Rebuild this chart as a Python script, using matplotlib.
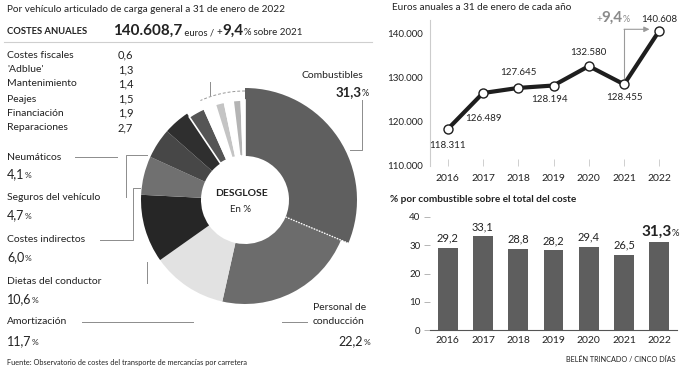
import numpy as np
import matplotlib
matplotlib.use("Agg")
import matplotlib.pyplot as plt
from matplotlib.ticker import FuncFormatter

plt.rcParams['font.family'] = ['Lato', 'DejaVu Sans']

# ---------------- data ----------------
years = [2016, 2017, 2018, 2019, 2020, 2021, 2022]
annual_costs = [118311, 126489, 127645, 128194, 132580, 128455, 140608]
fuel_share = [29.2, 33.1, 28.8, 28.2, 29.4, 26.5, 31.3]

slice_names = ["Combustibles", "Personal de conducción", "Amortización",
               "Dietas del conductor", "Costes indirectos", "Seguros del vehículo",
               "Neumáticos", "Reparaciones", "Financiación", "Peajes",
               "Mantenimiento", "'Adblue'", "Costes fiscales"]
slice_values = [31.3, 22.2, 11.7, 10.6, 6.0, 4.7, 4.1, 2.7, 1.9, 1.5, 1.4, 1.3, 0.6]
slice_colors = ["#5f5f5f", "#6c6c6c", "#e2e2e2", "#262626", "#707070", "#474747",
                "#2f2f2f", "#555555", "#ffffff", "#c4c4c4", "#ffffff", "#b4b4b4", "#ffffff"]

small_names = ["Costes fiscales", "'Adblue'", "Mantenimiento", "Peajes",
               "Financiación", "Reparaciones"]
small_values = ["0,6", "1,3", "1,4", "1,5", "1,9", "2,7"]

total_cost = "140.608,7"
growth = "9,4"

W, H = 686, 370
fig = plt.figure(figsize=(W / 100, H / 100), dpi=100)
fig.patch.set_facecolor("white")

TXT = "#222222"
GRAY = "#8a8a8a"
PT = 100 / 72.0  # pixels per point

def box(l, t, r, b):
    return [l / W, 1 - b / H, (r - l) / W, (b - t) / H]

# ---------------- donut ----------------
cx, cy = 245, 200
axd = fig.add_axes(box(cx - 120, cy - 120, cx + 120, cy + 120))
wedges, _ = axd.pie(slice_values, colors=slice_colors, startangle=90,
                    counterclock=False, radius=104,
                    wedgeprops=dict(width=60, edgecolor="none", linewidth=0))
hole = 44
for i, w in enumerate(wedges):
    if i == 0:
        w.set_radius(112); w.set_width(112 - hole)
    elif slice_values[i] < 3:
        w.set_radius(100); w.set_width(100 - hole)
        w.set_edgecolor("white"); w.set_linewidth(1.2)
axd.set_xlim(-120, 120); axd.set_ylim(-120, 120)
axd.set_aspect("equal"); axd.axis("off")
ang = np.deg2rad(90 - slice_values[0] * 3.6)
axd.plot([hole * np.cos(ang), 112 * np.cos(ang)], [hole * np.sin(ang), 112 * np.sin(ang)],
         color="white", lw=1.0, ls=(0, (1, 1)))
a0 = 90 + sum(slice_values[8:]) * 3.6
th = np.deg2rad(np.linspace(90, a0, 60))
axd.plot(109 * np.cos(th), 109 * np.sin(th), color="#999999", lw=0.7, ls=(0, (3, 2)))
axd.text(-4, 6, "DESGLOSE", ha="center", va="center", fontsize=7.5, fontweight="bold", color=TXT)
axd.text(-4, -9, "En %", ha="center", va="center", fontsize=7, color=TXT)

# ---------------- line chart ----------------
axl = fig.add_axes(box(430, 20, 677, 166))
axl.set_facecolor("none")
axl.plot(years, annual_costs, color="#1e1e1e", lw=3, marker="o", ms=6.5,
         mfc="white", mec="#1e1e1e", mew=1.0, zorder=3, clip_on=False)
axl.set_xlim(2015.5, 2022.5)
axl.set_ylim(110000, 143000)
axl.set_yticks([110000, 120000, 130000, 140000])
axl.yaxis.set_major_formatter(FuncFormatter(lambda v, p: f"{int(v):,}".replace(",", ".")))
axl.set_xticks(years)
for s in ["top", "right", "bottom"]:
    axl.spines[s].set_visible(False)
axl.spines["left"].set_color("#cccccc")
axl.spines["left"].set_linewidth(0.8)
axl.tick_params(axis="y", length=0, pad=5, labelsize=7, labelcolor=TXT)
axl.tick_params(axis="x", length=5, direction="in", color="#c8c8c8", width=0.6,
                pad=6, labelsize=7.5, labelcolor=TXT)
label_off_px = [(0, -16), (0, -25), (0, 15), (-4, -14), (0, 14), (0, -13), (0, 11)]
for x, y, (dx, dy) in zip(years, annual_costs, label_off_px):
    axl.annotate(f"{y:,}".replace(",", "."), (x, y), xytext=(dx / PT, dy / PT),
                 textcoords="offset points", ha="center", va="center",
                 fontsize=7, color=TXT, zorder=4)
axl.plot([2021, 2021], [130000, 140900], color="#9a9a9a", lw=0.8)
axl.annotate("", xy=(2021.72, 140900), xytext=(2021, 140900),
             arrowprops=dict(arrowstyle="-|>", color="#9a9a9a", lw=0.8,
                             mutation_scale=8, shrinkA=0, shrinkB=0))

# ---------------- bar chart ----------------
axb = fig.add_axes(box(430, 217, 677, 330))
axb.set_facecolor("none")
axb.bar(years, fuel_share, width=0.56, color="#5e5e5e")
axb.set_xlim(2015.5, 2022.5)
axb.set_ylim(0, 40)
axb.set_yticks([0, 10, 20, 30, 40])
axb.set_xticks(years)
for s in ["top", "right", "left"]:
    axb.spines[s].set_visible(False)
axb.spines["bottom"].set_color("#555555")
axb.spines["bottom"].set_linewidth(0.8)
axb.tick_params(axis="y", length=4, color="#aaaaaa", width=0.6, pad=3,
                labelsize=7, labelcolor=TXT)
axb.tick_params(axis="x", length=0, pad=4, labelsize=7.5, labelcolor=TXT)
for i, (x, v) in enumerate(zip(years, fuel_share)):
    if i == len(years) - 1:
        continue
    axb.annotate(f"{v:.1f}".replace(".", ","), (x, v), xytext=(0, 7),
                 textcoords="offset points", ha="center", va="center",
                 fontsize=8, color=TXT)

# ---------------- overlay for texts / leaders ----------------
ov = fig.add_axes([0, 0, 1, 1], zorder=10)
ov.set_xlim(0, W); ov.set_ylim(H, 0); ov.axis("off"); ov.patch.set_alpha(0)
renderer = fig.canvas.get_renderer()

def seq(x, y, pieces, va="baseline", align="left"):
    arts, widths = [], []
    for (t_, s, wgt, c) in pieces:
        a = ov.text(0, y, t_, fontsize=s, fontweight=wgt, color=c, ha="left", va=va)
        bb = a.get_window_extent(renderer=renderer)
        arts.append(a); widths.append(bb.width)
    total = sum(widths)
    cur = x - total if align == "right" else x
    for a, w in zip(arts, widths):
        a.set_x(cur)
        cur += w
    return arts

def t(x, y, s, size=7.5, weight="normal", color=TXT, ha="left", va="center"):
    ov.text(x, y, s, fontsize=size, fontweight=weight, color=color, ha=ha, va=va)

def line(xs, ys):
    ov.plot(xs, ys, color="#8c8c8c", lw=0.7)

t(7, 9, "Por vehículo articulado de carga general a 31 de enero de 2022", size=7.2)
t(7, 31, "COSTES ANUALES", size=6.8, weight="bold")
seq(113, 35, [(total_cost, 11, "bold", TXT), (" euros / ", 6.8, "normal", TXT),
              ("+", 7, "normal", TXT), (growth, 11, "bold", TXT),
              ("%", 6.8, "normal", TXT), (" sobre 2021", 7, "normal", TXT)])
ov.plot([4, 372], [42, 42], color="#cfcfcf", lw=0.8)

rows_y = [55, 70, 84, 99, 113, 128]
for name, val, yy in zip(small_names, small_values, rows_y):
    t(7, yy, name, size=7.5)
    t(118, yy, val, size=8)

lab = [("Neumáticos", "4,1", 157, 174), ("Seguros del vehículo", "4,7", 198, 215),
       ("Costes indirectos", "6,0", 240, 257), ("Dietas del conductor", "10,6", 282, 299),
       ("Amortización", "11,7", 322, 341)]
for name, num, y1, y2 in lab:
    t(7, y1, name, size=7.5)
    seq(7, y2 + 4, [(num, 9, "normal", TXT), ("%", 6, "normal", TXT)])

t(302, 75, "Combustibles", size=7.5)
seq(369, 96, [("31,3", 9.5, "bold", TXT), ("%", 6.5, "normal", TXT)], align="right")
t(313, 307, "Personal de", size=7.5)
t(313, 322, "conducción", size=7.5)
seq(370, 345, [("22,2", 9, "normal", TXT), ("%", 6, "normal", TXT)], align="right")

line([350, 362, 362], [150, 150, 100])
line([75, 117], [157, 157])
line([126, 126, 147], [197, 155, 155])
line([100, 133, 133, 140], [240, 240, 188, 188])
line([147, 147], [262, 283])
line([82, 193], [322, 322])
line([282, 307], [322, 322])
line([210, 210], [82, 95])

t(392, 8, "Euros anuales a 31 de enero de cada año", size=7.2)
seq(596, 22, [("+", 7, "normal", GRAY), (growth, 11, "bold", GRAY), ("%", 6.5, "normal", GRAY)])
t(390, 200, "% por combustible sobre el total del coste", size=7.2, weight="bold")
seq(641, 236, [("31,3", 11, "bold", TXT), ("%", 6.8, "normal", TXT)])

t(7, 362, "Fuente: Observatorio de costes del transporte de mercancías por carretera", size=5.3)
t(676, 360, "BELÉN TRINCADO / CINCO DÍAS", size=5.2, ha="right")

fig.savefig("out.png", dpi=100, facecolor="white")
